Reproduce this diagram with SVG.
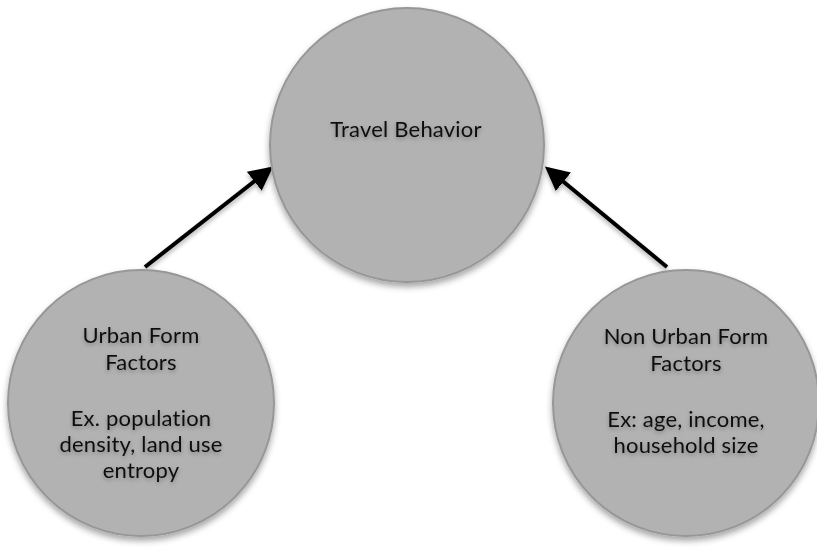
<svg xmlns="http://www.w3.org/2000/svg" width="817" height="550" viewBox="0 0 817 550">
  <style>
    .node { fill: #b2b2b2; stroke: #979797; stroke-width: 2; filter: url(#shadow); }
    .label { font-family: "Lato", "Open Sans", sans-serif; font-size: 22px; letter-spacing: 0.2px; fill: #111; text-anchor: middle; filter: url(#textshadow); }
    .edge { stroke: #000; stroke-width: 4; fill: none; marker-end: url(#arrow); filter: url(#edgeshadow); }
  </style>
  <defs>
    <filter id="shadow" x="-20%" y="-20%" width="140%" height="140%">
      <feDropShadow dx="0" dy="4" stdDeviation="3" flood-color="#000" flood-opacity="0.35"/>
    </filter>
    <filter id="textshadow" x="-20%" y="-50%" width="140%" height="200%">
      <feDropShadow dx="0" dy="2" stdDeviation="2" flood-color="#000" flood-opacity="0.3"/>
    </filter>
    <filter id="edgeshadow" x="-20%" y="-20%" width="140%" height="140%">
      <feDropShadow dx="0" dy="3" stdDeviation="2" flood-color="#000" flood-opacity="0.3"/>
    </filter>
    <marker id="arrow" markerWidth="6" markerHeight="6" refX="5" refY="3" orient="auto" markerUnits="strokeWidth">
      <path d="M0,0 L6,3 L0,6 Z" fill="#000"/>
    </marker>
  </defs>

  <g id="connectors">
    <line class="edge" x1="145" y1="267" x2="270" y2="169"/>
    <line class="edge" x1="667" y1="267" x2="548" y2="169"/>
  </g>

  <g id="travel-behavior">
    <circle class="node" cx="407" cy="145" r="137"/>
    <text class="label" x="406" y="137">Travel Behavior</text>
  </g>

  <g id="urban-form">
    <circle class="node" cx="141" cy="403" r="133"/>
    <text class="label" x="141" y="343">Urban Form</text>
    <text class="label" x="141" y="370">Factors</text>
    <text class="label" x="141" y="426">Ex. population</text>
    <text class="label" x="141" y="452">density, land use</text>
    <text class="label" x="141" y="478">entropy</text>
  </g>

  <g id="non-urban-form">
    <circle class="node" cx="686" cy="403" r="133"/>
    <text class="label" x="686" y="344">Non Urban Form</text>
    <text class="label" x="686" y="371">Factors</text>
    <text class="label" x="686" y="427">Ex: age, income,</text>
    <text class="label" x="686" y="453">household size</text>
  </g>
</svg>
